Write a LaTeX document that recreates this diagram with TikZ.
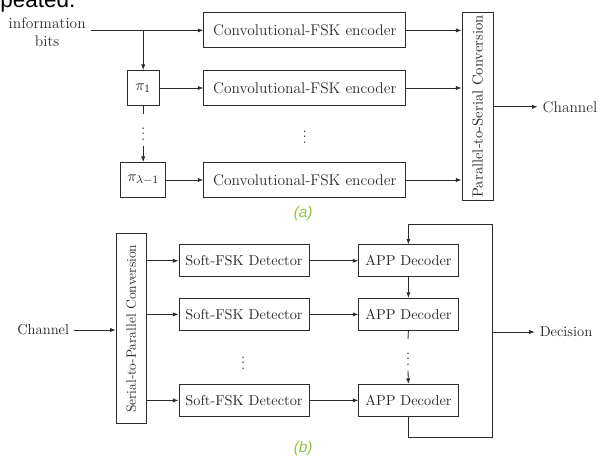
\documentclass[tikz,border=0pt]{standalone}
\usepackage{fontspec}
\usepackage{graphicx}
\usetikzlibrary{arrows.meta}
\newfontfamily\capfont{Liberation Sans}
\definecolor{jet}{HTML}{2B2B2B}
\definecolor{caption-green}{HTML}{8DC63F}

\begin{document}
\begin{tikzpicture}[>={Latex[length=4pt,width=3pt]},
    every node/.style={font=\fontsize{11}{12.8}\selectfont, text=jet},
    smalltext/.style={font=\fontsize{10.2}{12}\selectfont},
    blockbox/.style={draw=jet, semithick, fill=white, inner sep=0pt},
    convbox/.style={blockbox, minimum width=5.05cm, minimum height=0.875cm},
    softbox/.style={blockbox, smalltext, minimum width=3.25cm,
      minimum height=0.8cm},
    appbox/.style={blockbox, smalltext, minimum width=2.48cm,
      minimum height=0.8cm},
    link/.style={semithick, color=jet},
    caption/.style={font=\capfont\itshape\fontsize{11}{13}\selectfont,
      text=caption-green}]
    \clip (0, 0) rectangle (15, 11.4);

    \node[font=\capfont\fontsize{16}{18}\selectfont, text=black,
      anchor=base west, inner sep=0pt] (cut) at (0, 11.2) {peated.};

    % (a) encoder
    \node[align=center] (info) at (1.18, 10.6) {information\\bits};
    \node[convbox] (conv1) at (7.62, 10.64) {Convolutional-FSK encoder};
    \node[convbox] (conv2) at (7.62, 9.2) {Convolutional-FSK encoder};
    \node[convbox] (conv3) at (7.62, 6.9) {Convolutional-FSK encoder};
    \node (convdots) at (7.62, 8.08) {$\vdots$};
    \node[blockbox, minimum width=0.8cm, minimum height=0.875cm]
      (pi1) at (3.58, 9.2) {$\pi_1$};
    \node[blockbox, minimum width=1.125cm, minimum height=0.875cm]
      (pil) at (3.58, 6.9) {$\pi_{\lambda-1}$};
    \node (pidots) at (3.58, 8.15) {$\vdots$};
    \node[blockbox, minimum width=0.78cm, minimum height=4.72cm]
      (ps) at (11.94, 8.74)
      {\rotatebox{90}{\fontsize{10.4}{12}\selectfont Parallel-to-Serial Conversion}};
    \node (chout) at (14.25, 8.73) {Channel};
    \node[caption] (capa) at (7.58, 6.05) {(a)};

    \coordinate (split) at (pi1 |- conv1);
    \draw[link, ->] (info.east |- conv1) -- (conv1.west);
    \draw[link, ->] (split) -- (pi1.north);
    \draw[link] (pi1.south) -- (pidots.north);
    \draw[link, ->] (pidots.south) -- (pil.north);
    \draw[link, ->] (pi1.east) -- (conv2.west);
    \draw[link, ->] (pil.east) -- (conv3.west);
    \draw[link, ->] (conv1.east) -- (conv1.east -| ps.west);
    \draw[link, ->] (conv2.east) -- (conv2.east -| ps.west);
    \draw[link, ->] (conv3.east) -- (conv3.east -| ps.west);
    \draw[link, ->] (ps.east |- chout) -- (chout.west);

    % (b) decoder
    \node[smalltext] (chin) at (1.08, 3.15) {Channel};
    \node[blockbox, minimum width=0.75cm, minimum height=4.75cm]
      (sp) at (3.28, 3.18)
      {\rotatebox{90}{\fontsize{9.6}{11}\selectfont Serial-to-Parallel Conversion}};
    \node[softbox] (soft1) at (6.1, 4.88) {Soft-FSK Detector};
    \node[softbox] (soft2) at (6.1, 3.54) {Soft-FSK Detector};
    \node[softbox] (soft3) at (6.1, 1.39) {Soft-FSK Detector};
    \node[smalltext] (softdots) at (6.08, 2.43) {$\vdots$};
    \node[appbox] (app1) at (10.21, 4.88) {APP Decoder};
    \node[appbox] (app2) at (10.21, 3.54) {APP Decoder};
    \node[appbox] (app3) at (10.21, 1.39) {APP Decoder};
    \node[smalltext] (appdots) at (10.2, 2.53) {$\vdots$};
    \node[smalltext] (dec) at (14.15, 3.1) {Decision};
    \node[caption] (capb) at (7.58, 0.18) {(b)};
    \coordinate (fbbot) at (12.3, 0.475);
    \coordinate (fbtop) at (12.3, 5.8);

    \draw[link, ->] (chin.east) -- (chin.east -| sp.west);
    \draw[link, ->] (soft1 -| sp.east) -- (soft1.west);
    \draw[link, ->] (soft2 -| sp.east) -- (soft2.west);
    \draw[link, ->] (soft3 -| sp.east) -- (soft3.west);
    \draw[link, ->] (soft1.east) -- (app1.west);
    \draw[link, ->] (soft2.east) -- (app2.west);
    \draw[link, ->] (soft3.east) -- (app3.west);
    \draw[link, ->] (app1.south) -- (app2.north);
    \draw[link] (app2.south) -- (appdots.north);
    \draw[link, ->] (appdots.south) -- (app3.north);
    \draw[link, ->] (app3.south) |- (fbbot) -- (fbtop) -| (app1.north);
    \draw[link, ->] (fbbot |- dec) -- (dec.west);
  \end{tikzpicture}
\end{document}
